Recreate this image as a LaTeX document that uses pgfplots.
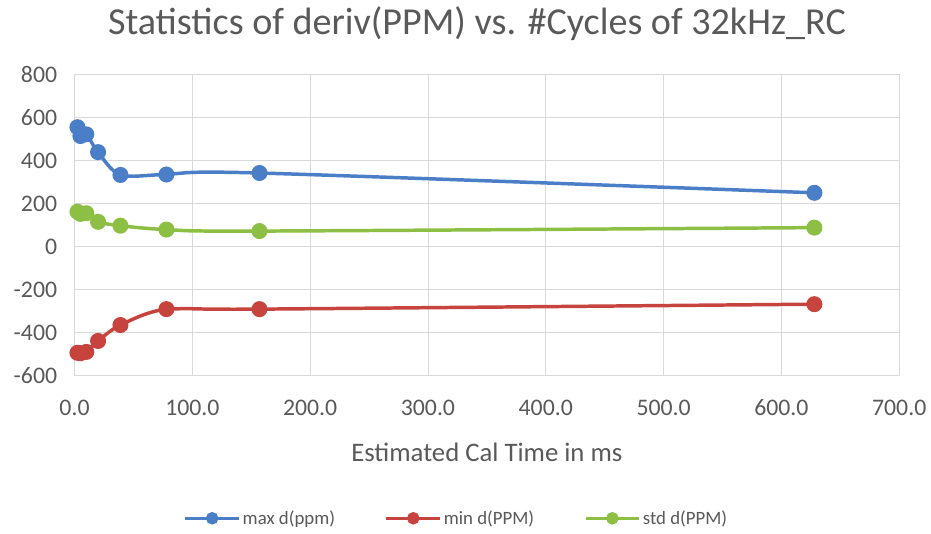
\documentclass[border=0pt]{standalone}
\usepackage{pgfplots}
\pgfplotsset{compat=1.18}
\usepackage{fontspec}
\setmainfont{Carlito}
\definecolor{cblue}{HTML}{4A7EC7}
\definecolor{cred}{HTML}{C7433E}
\definecolor{cgreen}{HTML}{8DBF44}
\definecolor{tgray}{HTML}{595959}
\definecolor{ggray}{HTML}{D9D9D9}
\begin{document}
\begin{tikzpicture}[x=1bp,y=1bp]
\begin{axis}[
  scale only axis,
  width=830bp, height=303bp,
  xmin=0, xmax=700, ymin=-600, ymax=800,
  xtick={0,100,...,700}, ytick={-600,-400,...,800},
  /pgf/number format/assume math mode=true,
  ticklabel style={font=\fontsize{24}{28}\selectfont, text=tgray},
  yticklabel style={xshift=-14bp},
  xticklabel style={yshift=-21bp, /pgf/number format/.cd,fixed,fixed zerofill,precision=1},
  grid=major, major grid style={ggray, line width=0.8bp},
  axis line style={ggray, line width=0.8bp},
  tick style={draw=none},
  title={Statistics of deriv(PPM) vs. \#Cycles of 32kHz\_RC},
  title style={font=\fontsize{38.5}{44}\selectfont, text=tgray, yshift=25bp, xshift=-10bp},
  xlabel={Estimated Cal Time in ms},
  xlabel style={font=\fontsize{27}{30}\selectfont, text=tgray, yshift=-20bp},
  legend columns=3,
  legend style={draw=none, at={(0.463,-0.474)}, anchor=center, font=\fontsize{19}{22}\selectfont, text=tgray, /tikz/every even column/.append style={column sep=48bp}, /tikz/every odd column/.append style={column sep=0bp}},
  legend image code/.code={\draw[#1, line width=3.5bp, mark=none] (-20bp,0bp) -- (34bp,0bp); \draw[#1, only marks, mark size=4.5bp] plot coordinates {(7bp,0bp)};},
  every axis plot/.append style={line width=3.5bp, smooth, tension=0.5, mark=*, mark size=6.3bp, mark options={line width=0bp}},
]
\addplot[cblue, mark options={fill=cblue}] coordinates {(2.5,555) (5,514) (10,522) (20,439) (39,333) (78,335) (157,342) (628,250)};
\addlegendentry{max d(ppm)}
\addplot[cred, mark options={fill=cred}] coordinates {(2.5,-494) (5,-496) (10,-490) (20,-439) (39,-365) (78,-291) (157,-291) (628,-268)};
\addlegendentry{min d(PPM)}
\addplot[cgreen, mark options={fill=cgreen}] coordinates {(2.5,162) (5,152) (10,155) (20,115) (39,97) (78,79) (157,72) (628,88)};
\addlegendentry{std d(PPM)}
\end{axis}
\path (-75bp,-159bp) rectangle (862bp,378bp);
\end{tikzpicture}
\end{document}
